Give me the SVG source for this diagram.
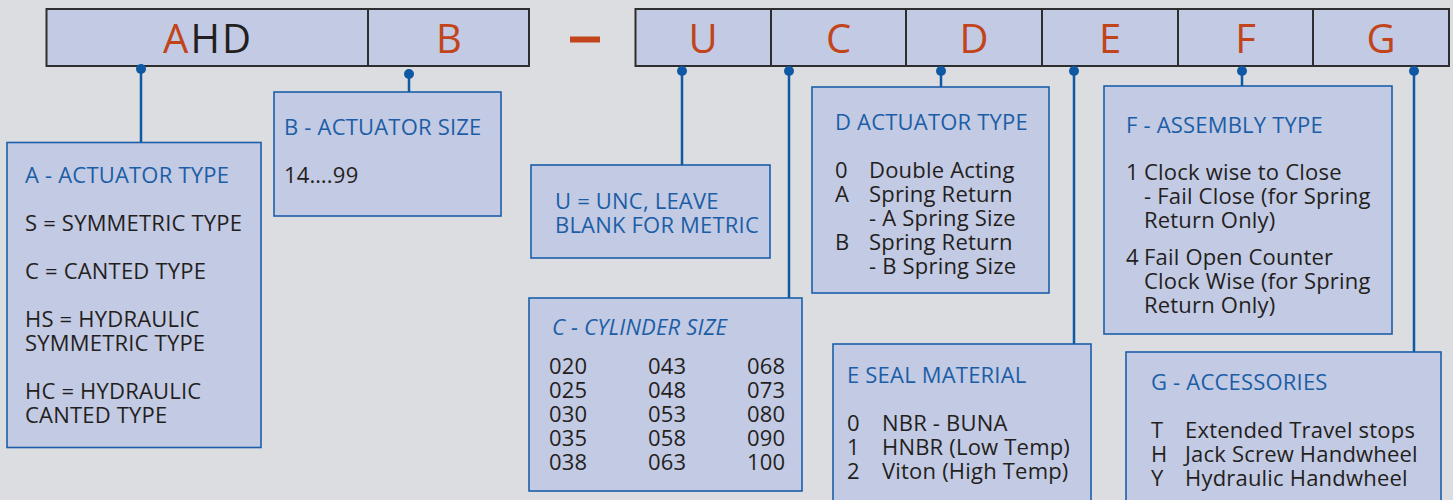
<svg xmlns="http://www.w3.org/2000/svg" width="1453" height="500" viewBox="0 0 1453 500">
<style>
.bg{fill:#dcdde0}
.bar{fill:#c3cae4;stroke:#2e2e30;stroke-width:2}
.box{fill:#c3cae4;stroke:#1c5ea9;stroke-width:1.6}
.code{font-family:"Open Sans","Liberation Sans",sans-serif;font-size:40px;fill:#c1441b;text-anchor:middle}
.t{font-family:"Open Sans","Liberation Sans",sans-serif;font-size:22px;letter-spacing:0.2px;fill:#231f20}
.h{font-family:"Open Sans","Liberation Sans",sans-serif;font-size:22px;letter-spacing:0.2px;fill:#1b5ea6}
.conn line{stroke:#0f58a3;stroke-width:2.5}
.conn circle{fill:#0f58a3}
</style>
<rect class="bg" x="0" y="0" width="1453" height="500"/>

<g id="code-bar">
  <rect class="bar" x="46.5" y="9" width="482.5" height="57"/>
  <line x1="368" y1="9" x2="368" y2="66" stroke="#2e2e30" stroke-width="2"/>
  <text class="code" x="208" y="53" font-size="41" letter-spacing="2"><tspan>A</tspan><tspan fill="#231f20">HD</tspan></text>
  <text class="code" x="449" y="53">B</text>
  <rect x="570" y="36.5" width="30" height="6" fill="#c1441b"/>
  <rect class="bar" x="635.5" y="9" width="813.5" height="57"/>
  <g stroke="#2e2e30" stroke-width="2">
    <line x1="771" y1="9" x2="771" y2="66"/>
    <line x1="906" y1="9" x2="906" y2="66"/>
    <line x1="1042" y1="9" x2="1042" y2="66"/>
    <line x1="1178" y1="9" x2="1178" y2="66"/>
    <line x1="1313" y1="9" x2="1313" y2="66"/>
  </g>
  <text class="code" x="703" y="53">U</text>
  <text class="code" x="838.5" y="53">C</text>
  <text class="code" x="974" y="53">D</text>
  <text class="code" x="1110" y="53">E</text>
  <text class="code" x="1245.5" y="53">F</text>
  <text class="code" x="1381" y="53">G</text>
</g>

<g id="connectors" class="conn">
  <line x1="141" y1="69" x2="141" y2="142"/><circle cx="141" cy="69" r="5"/>
  <line x1="409" y1="74" x2="409" y2="92"/><circle cx="409" cy="74" r="5"/>
  <line x1="682" y1="71" x2="682" y2="165"/><circle cx="682" cy="71" r="5"/>
  <line x1="789" y1="71" x2="789" y2="298"/><circle cx="789" cy="71" r="5"/>
  <line x1="941" y1="71" x2="941" y2="87"/><circle cx="941" cy="71" r="5"/>
  <line x1="1074" y1="71" x2="1074" y2="344"/><circle cx="1074" cy="71" r="5"/>
  <line x1="1242" y1="71" x2="1242" y2="86"/><circle cx="1242" cy="71" r="5"/>
  <line x1="1414" y1="71" x2="1414" y2="352"/><circle cx="1414" cy="71" r="5"/>
</g>

<g id="node-a">
  <rect class="box" x="7" y="142.5" width="254" height="305"/>
  <text class="h" x="25" y="183">A - ACTUATOR TYPE</text>
  <text class="t" x="25" y="231">S = SYMMETRIC TYPE</text>
  <text class="t" x="25" y="279">C = CANTED TYPE</text>
  <text class="t" x="25" y="327">HS = HYDRAULIC</text>
  <text class="t" x="25" y="351">SYMMETRIC TYPE</text>
  <text class="t" x="25" y="399">HC = HYDRAULIC</text>
  <text class="t" x="25" y="423">CANTED TYPE</text>
</g>

<g id="node-b">
  <rect class="box" x="274" y="92" width="227" height="124"/>
  <text class="h" x="284" y="135">B - ACTUATOR SIZE</text>
  <text class="t" x="284" y="183">14….99</text>
</g>

<g id="node-u">
  <rect class="box" x="531" y="165" width="239" height="93"/>
  <text class="h" x="555" y="209">U = UNC, LEAVE</text>
  <text class="h" x="555" y="233">BLANK FOR METRIC</text>
</g>

<g id="node-c">
  <rect class="box" x="529" y="298" width="273" height="193"/>
  <text class="h" x="552" y="335" font-style="italic">C - CYLINDER SIZE</text>
  <text class="t" x="549" y="374">020</text><text class="t" x="648" y="374">043</text><text class="t" x="747" y="374">068</text>
  <text class="t" x="549" y="398">025</text><text class="t" x="648" y="398">048</text><text class="t" x="747" y="398">073</text>
  <text class="t" x="549" y="422">030</text><text class="t" x="648" y="422">053</text><text class="t" x="747" y="422">080</text>
  <text class="t" x="549" y="446">035</text><text class="t" x="648" y="446">058</text><text class="t" x="747" y="446">090</text>
  <text class="t" x="549" y="470">038</text><text class="t" x="648" y="470">063</text><text class="t" x="747" y="470">100</text>
</g>

<g id="node-d">
  <rect class="box" x="812" y="87" width="237" height="206"/>
  <text class="h" x="835" y="130">D ACTUATOR TYPE</text>
  <text class="t" x="835" y="178">0</text><text class="t" x="869" y="178">Double Acting</text>
  <text class="t" x="835" y="202">A</text><text class="t" x="869" y="202">Spring Return</text>
  <text class="t" x="869" y="226">- A Spring Size</text>
  <text class="t" x="835" y="250">B</text><text class="t" x="869" y="250">Spring Return</text>
  <text class="t" x="869" y="274">- B Spring Size</text>
</g>

<g id="node-e">
  <rect class="box" x="833" y="344" width="258" height="170"/>
  <text class="h" x="847" y="383">E SEAL MATERIAL</text>
  <text class="t" x="847" y="431">0</text><text class="t" x="882" y="431">NBR - BUNA</text>
  <text class="t" x="847" y="455">1</text><text class="t" x="882" y="455">HNBR (Low Temp)</text>
  <text class="t" x="847" y="479">2</text><text class="t" x="882" y="479">Viton (High Temp)</text>
</g>

<g id="node-f">
  <rect class="box" x="1104" y="86" width="288" height="248"/>
  <text class="h" x="1126" y="133">F - ASSEMBLY TYPE</text>
  <text class="t" x="1126" y="180">1</text><text class="t" x="1144" y="180">Clock wise to Close</text>
  <text class="t" x="1144" y="204">- Fail Close (for Spring</text>
  <text class="t" x="1144" y="228">Return Only)</text>
  <text class="t" x="1126" y="265">4</text><text class="t" x="1144" y="265">Fail Open Counter</text>
  <text class="t" x="1144" y="289">Clock Wise (for Spring</text>
  <text class="t" x="1144" y="313">Return Only)</text>
</g>

<g id="node-g">
  <rect class="box" x="1126" y="352" width="315" height="162"/>
  <text class="h" x="1151" y="390">G - ACCESSORIES</text>
  <text class="t" x="1151" y="438">T</text><text class="t" x="1185" y="438">Extended Travel stops</text>
  <text class="t" x="1151" y="462">H</text><text class="t" x="1185" y="462">Jack Screw Handwheel</text>
  <text class="t" x="1151" y="486">Y</text><text class="t" x="1185" y="486">Hydraulic Handwheel</text>
</g>
</svg>
